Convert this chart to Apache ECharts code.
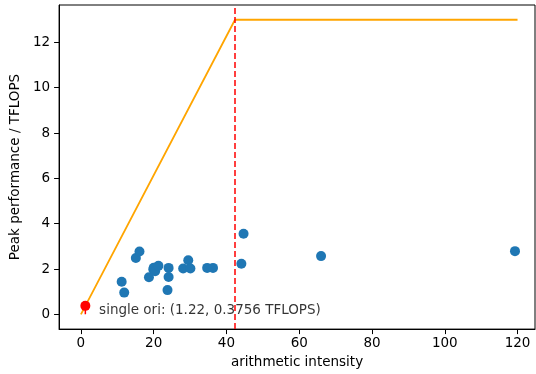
<!DOCTYPE html>
<html>
<head>
<meta charset="utf-8">
<script src="https://cdn.jsdelivr.net/npm/echarts@6/dist/echarts.min.js"></script>
<style>
  html, body { margin: 0; padding: 0; background: #fff; }
  #main { width: 536px; height: 374px; }
</style>
</head>
<body>
<div id="main"></div>
<script>
// measured kernels
const kernelX = [11.2, 11.9, 15.1, 16.1, 18.7, 20.0, 19.9, 20.4, 21.3, 24.1, 24.1, 23.8, 28.1, 29.5, 30.1, 34.7, 36.3, 44.1, 44.7, 66.0, 119.3];
const kernelY = [1.44, 0.96, 2.49, 2.77, 1.64, 2.06, 1.98, 1.90, 2.14, 2.05, 1.65, 1.07, 2.02, 2.39, 2.02, 2.05, 2.05, 2.23, 3.56, 2.57, 2.79];

// roofline: bandwidth slope up to ridge, then flat peak
const roofX = [0, 42.35, 120];
const roofY = [0, 13, 13];
const ridgeX = 42.35;

const single = [1.22, 0.3756];
const singleLabel = 'single ori: (1.22, 0.3756 TFLOPS)';

const xTicks = [0, 20, 40, 60, 80, 100, 120];
const yTicks = [0, 2, 4, 6, 8, 10, 12];

const font = 'DejaVu Sans';

let myChart = echarts.init(document.getElementById('main'), null, { renderer: 'canvas' });

let option = {
  animation: false,
  grid: {
    left: 55, right: 1, top: 5, bottom: 41,
    show: true, borderColor: '#000', borderWidth: 1, backgroundColor: 'transparent'
  },
  xAxis: {
    type: 'value',
    min: -6, max: 124.8,
    name: 'arithmetic intensity',
    nameLocation: 'middle',
    nameGap: 24,
    nameTextStyle: { fontFamily: font, fontSize: 13.5, color: '#000' },
    axisLine: { show: true, onZero: false, lineStyle: { color: '#000', width: 1 } },
    axisTick: { show: true, length: 5, customValues: xTicks, lineStyle: { color: '#000' } },
    axisLabel: { customValues: xTicks, margin: 7, fontFamily: font, fontSize: 13.5, color: '#000' },
    splitLine: { show: false }
  },
  yAxis: {
    type: 'value',
    min: -0.65, max: 13.65,
    name: 'Peak performance / TFLOPS',
    nameLocation: 'middle',
    nameGap: 32,
    nameTextStyle: { fontFamily: font, fontSize: 13.5, color: '#000' },
    axisLine: { show: true, onZero: false, lineStyle: { color: '#000', width: 1 } },
    axisTick: { show: true, length: 5, customValues: yTicks, lineStyle: { color: '#000' } },
    axisLabel: { customValues: yTicks, margin: 9, fontFamily: font, fontSize: 13.5, color: '#000' },
    splitLine: { show: false }
  },
  series: [
    {
      type: 'line',
      data: roofX.map((x, i) => [x, roofY[i]]),
      showSymbol: false,
      lineStyle: { color: '#ffa500', width: 1.8 },
      markLine: {
        silent: true,
        symbol: 'none',
        label: { show: false },
        lineStyle: { color: '#ff0000', type: [6, 3], width: 1.5 },
        data: [{ xAxis: ridgeX }]
      },
      z: 2
    },
    {
      type: 'scatter',
      data: kernelX.map((x, i) => [x, kernelY[i]]),
      symbolSize: 10,
      itemStyle: { color: '#1f77b4', opacity: 1 },
      z: 3
    },
    {
      // stem under the single point
      type: 'line',
      data: [[single[0], 0], [single[0], single[1]]],
      showSymbol: false,
      lineStyle: { color: '#ff0000', width: 1.5 },
      z: 3
    },
    {
      type: 'scatter',
      data: [single],
      symbolSize: 10,
      itemStyle: { color: '#ff0000', opacity: 1 },
      z: 4
    },
    {
      // annotation text
      type: 'scatter',
      data: [[5.0, 0.17]],
      symbolSize: 0,
      silent: true,
      label: {
        show: true,
        position: 'right',
        distance: 0,
        formatter: singleLabel,
        fontFamily: font,
        fontSize: 13.5,
        color: '#000'
      },
      z: 5
    }
  ]
};

myChart.setOption(option);
</script>
</body>
</html>
